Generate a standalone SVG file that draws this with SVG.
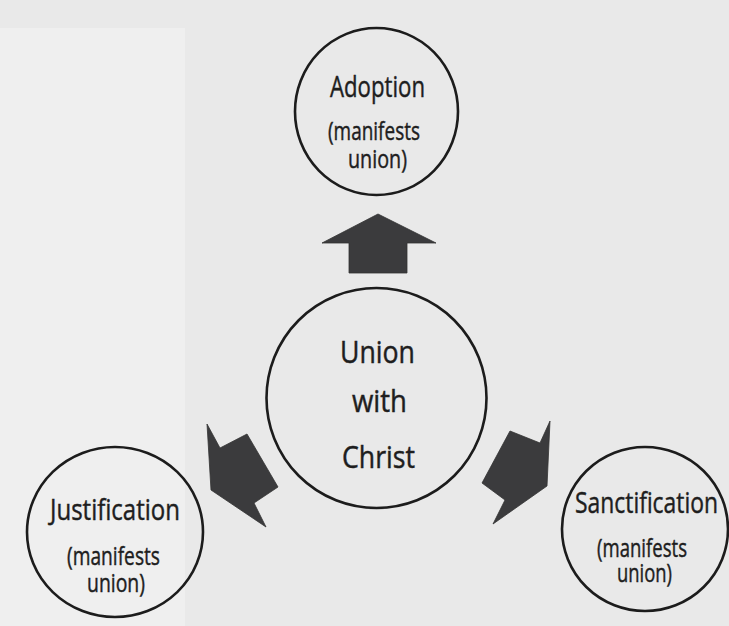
<svg xmlns="http://www.w3.org/2000/svg" width="729" height="626" viewBox="0 0 729 626">
  <defs>
    <style>
      .node { fill: none; stroke: #1c1c1c; stroke-width: 2.6; }
      .arrow { fill: #3b3b3d; stroke: #333; stroke-width: 0.8; stroke-linejoin: miter; }
      text { font-family: "Open Sans", "Liberation Sans", sans-serif; fill: #1e1e1e; stroke: #1e1e1e; stroke-width: 0.45; text-anchor: middle; }
      .title { font-size: 30px; }
      .big { font-size: 31px; }
      .sub { font-size: 26px; }
    </style>
  </defs>
  <rect x="0" y="0" width="729" height="626" fill="#e9e9e9"/>
  <rect x="0" y="28" width="185" height="598" fill="#efefef"/>

  <g id="connectors">
    <polygon class="arrow" points="378,214 436,243 407,243 407,273 349,273 349,243 322,243"/>
    <polygon class="arrow" points="207,424 220,448 247,434 278,487 254,503 266,527 211,490"/>
    <polygon class="arrow" points="550,421 540,443 510,431 482,483 505,500 493,524 547,486"/>
  </g>

  <g id="adoption">
    <ellipse class="node" cx="376.5" cy="111.5" rx="81.5" ry="83.5"/>
    <text class="title" x="377.5" y="97" textLength="95" lengthAdjust="spacingAndGlyphs">Adoption</text>
    <text class="sub" x="374" y="140" textLength="92" lengthAdjust="spacingAndGlyphs">(manifests</text>
    <text class="sub" x="377.5" y="168" textLength="59" lengthAdjust="spacingAndGlyphs">union)</text>
  </g>

  <g id="union">
    <circle class="node" cx="376.5" cy="398" r="110"/>
    <text class="big" x="377.5" y="363" textLength="75" lengthAdjust="spacingAndGlyphs">Union</text>
    <text class="big" x="379.5" y="412" textLength="55" lengthAdjust="spacingAndGlyphs">with</text>
    <text class="big" x="378.5" y="468" textLength="73" lengthAdjust="spacingAndGlyphs">Christ</text>
  </g>

  <g id="justification">
    <ellipse class="node" cx="115" cy="532" rx="88" ry="85"/>
    <text class="title" x="115" y="520" textLength="130" lengthAdjust="spacingAndGlyphs">Justification</text>
    <text class="sub" x="113.5" y="565" textLength="93" lengthAdjust="spacingAndGlyphs">(manifests</text>
    <text class="sub" x="116" y="592" textLength="58" lengthAdjust="spacingAndGlyphs">union)</text>
  </g>

  <g id="sanctification">
    <ellipse class="node" cx="645" cy="529" rx="83" ry="82"/>
    <text class="title" x="646.5" y="513" textLength="143" lengthAdjust="spacingAndGlyphs">Sanctification</text>
    <text class="sub" x="642" y="557" textLength="90" lengthAdjust="spacingAndGlyphs">(manifests</text>
    <text class="sub" x="644.5" y="582" textLength="55" lengthAdjust="spacingAndGlyphs">union)</text>
  </g>
</svg>
